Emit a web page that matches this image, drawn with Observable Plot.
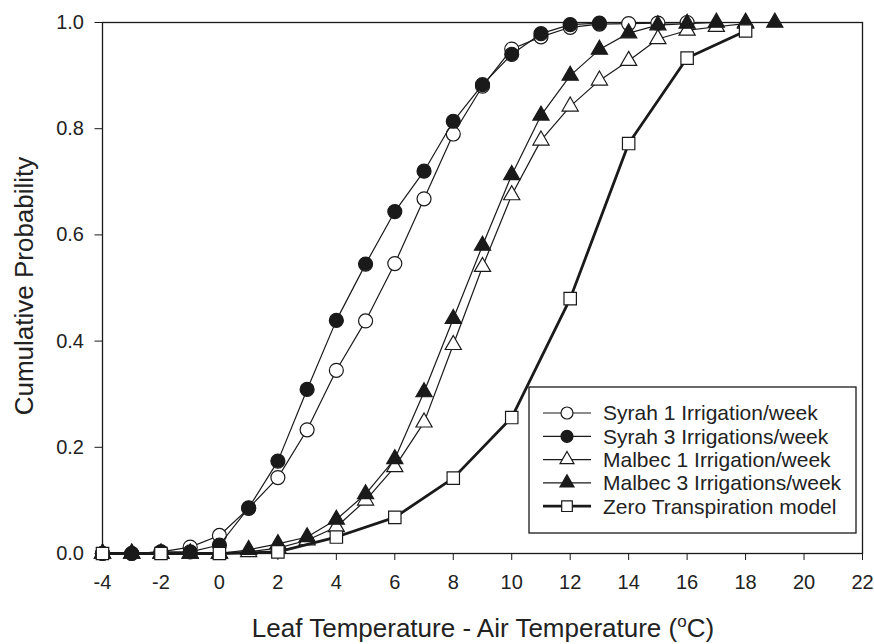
<!DOCTYPE html>
<html><head><meta charset="utf-8">
<script src="https://cdn.jsdelivr.net/npm/d3@7"></script>
<script src="https://cdn.jsdelivr.net/npm/@observablehq/plot@0.6"></script>
<style>body{margin:0;background:#fff;} #chart{width:874px;height:644px;}</style>
</head><body><div id="chart"></div>
<script>
// ---- data ----
const seriesNames = ["Syrah 1 Irrigation/week", "Syrah 3 Irrigations/week", "Malbec 1 Irrigation/week", "Malbec 3 Irrigations/week", "Zero Transpiration model"];
const syrah1X = [-4,-3,-2,-1,0,1,2,3,4,5,6,7,8,9,10,11,12,13,14,15,16];
const syrah1Y = [0,0,0.003,0.012,0.034,0.085,0.143,0.233,0.345,0.438,0.546,0.668,0.79,0.88,0.95,0.973,0.991,0.997,0.998,0.999,1.0];
const syrah3X = [-4,-3,-2,-1,0,1,2,3,4,5,6,7,8,9,10,11,12,13];
const syrah3Y = [0,0,0.003,0.003,0.016,0.086,0.174,0.309,0.439,0.545,0.644,0.72,0.814,0.883,0.94,0.979,0.996,0.999];
const malbec1X = [-4,-3,-2,-1,0,1,2,3,4,5,6,7,8,9,10,11,12,13,14,15,16,17,18];
const malbec1Y = [0,0,0,0,0,0.003,0.01,0.025,0.05,0.1,0.163,0.247,0.393,0.54,0.675,0.778,0.842,0.891,0.928,0.969,0.985,0.992,0.998];
const malbec3X = [-4,-3,-2,-1,0,1,2,3,4,5,6,7,8,9,10,11,12,13,14,15,16,17,18,19];
const malbec3Y = [0,0,0,0,0,0.007,0.018,0.031,0.064,0.112,0.178,0.304,0.442,0.58,0.713,0.825,0.9,0.949,0.98,0.995,0.998,1.0,1.0,1.0];
const zeroX = [-4,-2,0,2,4,6,8,10,12,14,16,18];
const zeroY = [0,0,0,0.003,0.031,0.068,0.142,0.256,0.48,0.772,0.933,0.984];
const xTicks = [-4,-2,0,2,4,6,8,10,12,14,16,18,20,22];
const yTicks = [0,0.2,0.4,0.6,0.8,1.0];

const ink = "#1a1a1a";
const styles = [
  {symbol:"circle", fill:"white", r:7, lw:1.2},
  {symbol:"circle", fill:ink, r:7, lw:1.2},
  {symbol:"triangle", fill:"white", r:6, lw:1.2},
  {symbol:"triangle", fill:ink, r:6, lw:1.2},
  {symbol:"square", fill:"white", r:7, lw:2.8}
];
const xs = [syrah1X, syrah3X, malbec1X, malbec3X, zeroX];
const ys = [syrah1Y, syrah3Y, malbec1Y, malbec3Y, zeroY];

const marks = [
  Plot.frame({stroke: ink, strokeWidth: 1.3}),
  Plot.axisX(xTicks, {tickSize: 7, tickPadding: 14, tickFormat: d => String(d), label: null, stroke: ink, color: "#222"}),
  Plot.axisY(yTicks, {tickSize: 7.5, tickPadding: 11, tickFormat: d3.format(".1f"), label: null, stroke: ink, color: "#222"})
];
seriesNames.forEach((name, i) => {
  const data = xs[i].map((x, j) => ({x, y: ys[i][j], name}));
  const s = styles[i];
  marks.push(Plot.line(data, {x: "x", y: "y", stroke: ink, strokeWidth: s.lw}));
  marks.push(Plot.dot(data, {x: "x", y: "y", symbol: s.symbol, r: s.r, fill: s.fill, stroke: ink, strokeWidth: 1.2}));
});

const plot = Plot.plot({
  width: 874, height: 644,
  marginLeft: 102, marginRight: 12, marginTop: 22, marginBottom: 91,
  x: {domain: [-4, 22]},
  y: {domain: [0, 1]},
  style: {fontFamily: "'Liberation Sans', Arial, sans-serif", fontSize: "20px", background: "#fff", color: "#222"},
  marks
});
document.getElementById("chart").appendChild(plot);

// ---- axis titles and legend ----
const svg = d3.select(plot);
svg.selectAll('g[aria-label$="tick label"]').attr("font-size", 20);
svg.append("text")
  .attr("transform", "translate(24,286) rotate(-90)")
  .attr("text-anchor", "middle").attr("dy", "0.35em")
  .attr("font-size", 26).attr("fill", "#222")
  .text("Cumulative Probability");
const xt = svg.append("text")
  .attr("x", 483).attr("y", 637)
  .attr("text-anchor", "middle")
  .attr("font-size", 26).attr("fill", "#222");
xt.append("tspan").text("Leaf Temperature - Air Temperature (");
xt.append("tspan").attr("font-size", 17).attr("dy", -10).text("o");
xt.append("tspan").attr("dy", 10).text("C)");

const lg = svg.append("g").attr("text-anchor", "start");
lg.append("rect").attr("x", 529).attr("y", 387).attr("width", 327).attr("height", 146)
  .attr("fill", "white").attr("stroke", ink).attr("stroke-width", 1.3);
const symMap = {circle: d3.symbolCircle, triangle: d3.symbolTriangle, square: d3.symbolSquare};
seriesNames.forEach((name, i) => {
  const s = styles[i];
  const cy = 413 + i * 23.3;
  const row = lg.append("g");
  row.append("line").attr("x1", 543).attr("x2", 591).attr("y1", cy).attr("y2", cy)
    .attr("stroke", ink).attr("stroke-width", s.lw);
  const rr = s.symbol === "triangle" ? 5.2 : 6;
  row.append("path").attr("d", d3.symbol(symMap[s.symbol], Math.PI * rr * rr)())
    .attr("transform", `translate(567,${cy})`)
    .attr("fill", s.fill).attr("stroke", ink).attr("stroke-width", 1.2);
  row.append("text").attr("x", 603).attr("y", cy).attr("dy", "0.35em").attr("text-anchor", "start")
    .attr("font-size", 21).attr("fill", "#222").text(name);
});
</script></body></html>
